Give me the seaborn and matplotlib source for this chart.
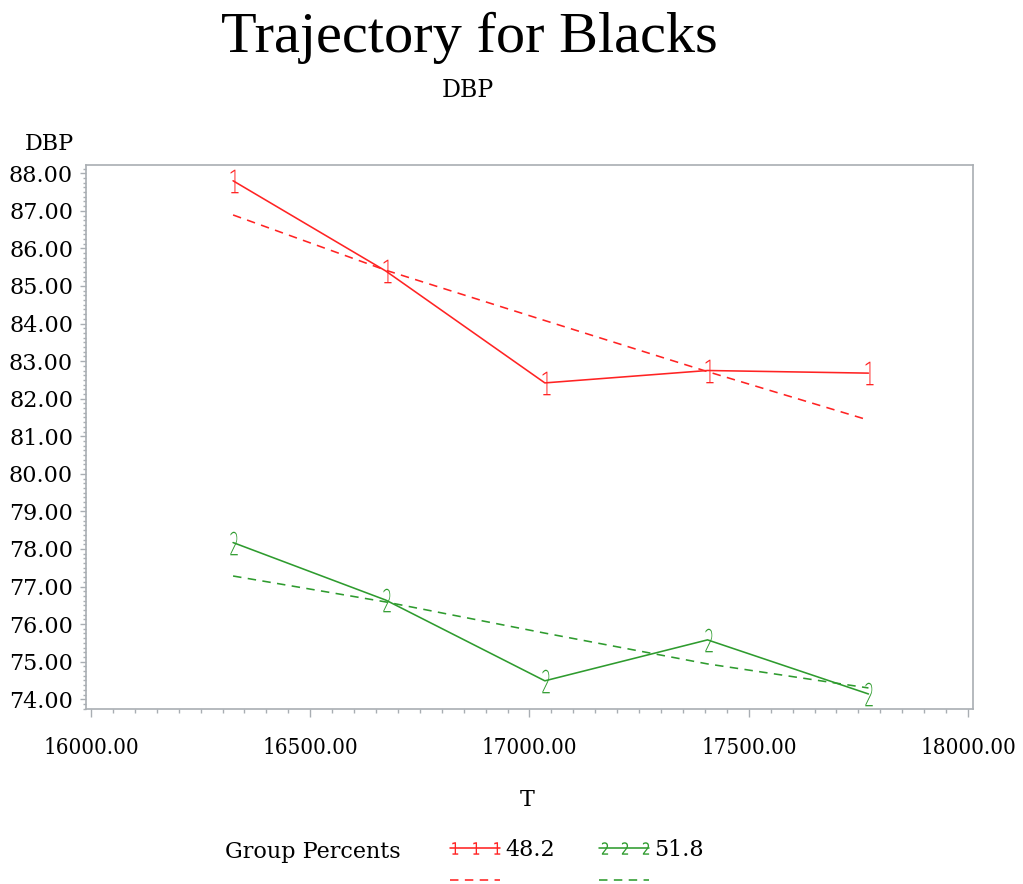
import numpy as np
import pandas as pd
import matplotlib
matplotlib.use("Agg")
import matplotlib.pyplot as plt
import seaborn as sns
from matplotlib.textpath import TextPath
from matplotlib.path import Path
from matplotlib.transforms import Affine2D
from matplotlib.font_manager import FontProperties
from matplotlib.lines import Line2D
from matplotlib.legend_handler import HandlerLine2D, HandlerTuple
from matplotlib.ticker import MultipleLocator, FixedLocator, FixedFormatter

# ---- data -------------------------------------------------------------
t_values = [16324, 16672, 17035, 17406, 17773]

group1_observed = [87.80, 85.40, 82.42, 82.75, 82.68]
group1_fitted = [86.89, 85.42, 84.08, 82.72, 81.43]
group2_observed = [78.17, 76.64, 74.49, 75.58, 74.14]
group2_fitted = [77.28, 76.59, 75.76, 74.94, 74.30]

group_percents = ["48.2", "51.8"]

x_ticks = [16000, 16500, 17000, 17500, 18000]
x_tick_labels = ["16000.00", "16500.00", "17000.00", "17500.00", "18000.00"]
y_ticks = [74, 75, 76, 77, 78, 79, 80, 81, 82, 83, 84, 85, 86, 87, 88]
y_tick_labels = ["74.00", "75.00", "76.00", "77.00", "78.00", "79.00", "80.00",
                 "81.00", "82.00", "83.00", "84.00", "85.00", "86.00", "87.00",
                 "88.00"]

# ---- style ------------------------------------------------------------
sns.set_style("white")
plt.rcParams["font.family"] = ["DejaVu Serif", "Liberation Serif"]
plt.rcParams["font.size"] = 16
plt.rcParams["text.color"] = "black"
plt.rcParams["axes.labelcolor"] = "black"

RED = "#ff2323"
GREEN = "#2e9b2e"
AXIS_GRAY = "#a9aeb3"
FS = 16


def glyph_marker(ch, squeeze=0.55, weight="light"):
    """Build a narrow symbol-font style marker from a character."""
    prop = FontProperties(family="DejaVu Sans", weight=weight)
    tp = TextPath((0, 0), ch, size=10, prop=prop)
    verts = tp.vertices.copy()
    x0, y0 = verts.min(axis=0)
    x1, y1 = verts.max(axis=0)
    trans = (Affine2D()
             .translate(-(x0 + x1) / 2, -(y0 + y1) / 2)
             .scale(squeeze, 1.0))
    return Path(trans.transform(verts), tp.codes)


marker_1 = glyph_marker("1", 0.6)
marker_2 = glyph_marker("2", 0.5)
legend_marker_1 = glyph_marker("1", 0.8, "normal")
legend_marker_2 = glyph_marker("2", 0.8, "normal")

fig = plt.figure(figsize=(10.23, 8.84), dpi=100)
ax = fig.add_axes([86 / 1023, 1 - 709 / 884, (973 - 86) / 1023, (709 - 165) / 884])

df = pd.DataFrame({
    "T": t_values * 4,
    "DBP": group1_observed + group1_fitted + group2_observed + group2_fitted,
    "series": (["g1_obs"] * 5 + ["g1_fit"] * 5 + ["g2_obs"] * 5 + ["g2_fit"] * 5),
})

solid_kw = dict(linewidth=1.15, markersize=17, markeredgewidth=0)
dash_style = (0, (5.3, 4.0))

sns.lineplot(data=df[df.series == "g1_obs"], x="T", y="DBP", ax=ax, color=RED,
             marker=marker_1, markerfacecolor=RED, **solid_kw)
sns.lineplot(data=df[df.series == "g1_fit"], x="T", y="DBP", ax=ax, color=RED,
             linewidth=1.15, linestyle=dash_style)
sns.lineplot(data=df[df.series == "g2_obs"], x="T", y="DBP", ax=ax, color=GREEN,
             marker=marker_2, markerfacecolor=GREEN, **solid_kw)
sns.lineplot(data=df[df.series == "g2_fit"], x="T", y="DBP", ax=ax, color=GREEN,
             linewidth=1.15, linestyle=dash_style)

# ---- axes -------------------------------------------------------------
ax.set_xlim(15988.6, 18011.4)
ax.set_ylim(73.74, 88.22)
ax.xaxis.set_major_locator(FixedLocator(x_ticks))
ax.xaxis.set_major_formatter(FixedFormatter(x_tick_labels))
ax.xaxis.set_minor_locator(MultipleLocator(50))
ax.yaxis.set_major_locator(FixedLocator(y_ticks))
ax.yaxis.set_major_formatter(FixedFormatter(y_tick_labels))
ax.yaxis.set_minor_locator(MultipleLocator(0.125))
ax.set_xlabel("")
ax.set_ylabel("")

for sp in ax.spines.values():
    sp.set_visible(True)
    sp.set_color(AXIS_GRAY)
    sp.set_linewidth(1.2)

ax.tick_params(axis="both", which="both", direction="out", color=AXIS_GRAY,
               width=1.0, labelcolor="black", labelsize=FS)
ax.tick_params(axis="x", which="major", length=6, pad=14, bottom=True, top=False)
ax.tick_params(axis="x", which="minor", length=3, bottom=True, top=False)
ax.tick_params(axis="y", which="major", length=4.3, pad=5, left=True, right=False)
ax.tick_params(axis="y", which="minor", length=2.2, left=True, right=False)
for lab in ax.get_xticklabels():
    lab.set_fontstretch("condensed")

# ---- titles and axis labels ------------------------------------------
fig.text(469 / 1023, 1 - 52 / 884, "Trajectory for Blacks", ha="center",
         va="baseline", fontsize=42, family=["Liberation Serif", "DejaVu Serif"])
fig.text(468 / 1023, 1 - 97 / 884, "DBP", ha="center", va="baseline", fontsize=17)
fig.text(49.5 / 1023, 1 - 150 / 884, "DBP", ha="center", va="baseline", fontsize=FS)
fig.text(527 / 1023, 1 - 806 / 884, "T", ha="center", va="baseline", fontsize=FS)

# ---- legend -----------------------------------------------------------
fig.text(225 / 1023, 1 - 858 / 884, "Group Percents", ha="left",
         va="baseline", fontsize=FS)

red_line = Line2D([], [], color=RED, linewidth=1.15)
red_marks = Line2D([], [], linestyle="none", marker=legend_marker_1, markersize=9,
                   markeredgewidth=0, markerfacecolor=RED)
green_line = Line2D([], [], color=GREEN, linewidth=1.15)
green_marks = Line2D([], [], linestyle="none", marker=legend_marker_2, markersize=9,
                     markeredgewidth=0, markerfacecolor=GREEN)
red_dash = Line2D([], [], color=RED, linewidth=1.15, linestyle=dash_style)
green_dash = Line2D([], [], color=GREEN, linewidth=1.15, linestyle=dash_style)

handles = [(red_line, red_marks), red_dash, (green_line, green_marks), green_dash]
labels = [group_percents[0], "", group_percents[1], ""]
full = HandlerLine2D(marker_pad=0)
inset = HandlerLine2D(marker_pad=0.2)
fig.legend(handles, labels, ncol=2, numpoints=3, frameon=False,
           loc="upper left", bbox_to_anchor=(450 / 1023, 1 - 839 / 884),
           borderpad=0, borderaxespad=0, handlelength=2.25, handletextpad=0.23,
           columnspacing=2.0, labelspacing=0.42, fontsize=FS,
           handler_map={tuple: HandlerTuple(ndivide=1),
                        red_line: full, green_line: full,
                        red_dash: full, green_dash: full,
                        red_marks: inset, green_marks: inset})

fig.savefig("out.png", dpi=100)
